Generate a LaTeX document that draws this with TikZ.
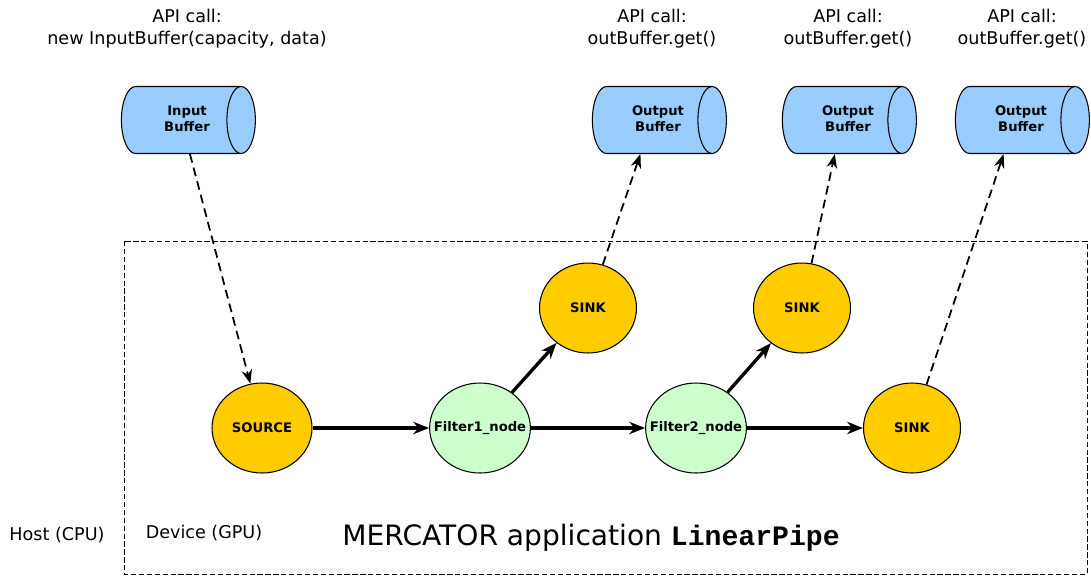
\documentclass[tikz,border=0pt]{standalone}
\usepackage{fontspec}
\setmainfont{DejaVu Sans}
\setmonofont{Liberation Mono}
\usetikzlibrary{arrows.meta, shapes.geometric}
\definecolor{bufBlue}{HTML}{99CCFF}
\definecolor{sinkGold}{HTML}{FFCC00}
\definecolor{filtGreen}{HTML}{CCFFCC}
% label of a buffer, centred on the whole cylinder
\newcommand{\buftext}[1]{\hspace*{0.24cm}\begin{tabular}{@{}c@{}}#1\end{tabular}}
\tikzset{
  buffer/.style={cylinder, draw=black, fill=bufBlue, semithick, aspect=0.9,
    minimum height=2.68cm, minimum width=1.34cm, inner sep=0pt,
    font=\fontsize{7.5}{9}\selectfont\bfseries},
  stage/.style={ellipse, draw=black, semithick, inner ysep=0pt, inner xsep=-6pt,
    minimum width=2cm, minimum height=1.8cm,
    font=\fontsize{7.5}{9}\selectfont\bfseries},
  source/.style={stage, fill=sinkGold},
  sink/.style={stage, fill=sinkGold, minimum width=1.94cm},
  filter/.style={stage, fill=filtGreen},
  apicall/.style={align=center, font=\fontsize{10}{12.5}\selectfont},
  flow/.style={-{Stealth[length=9pt, width=7pt]}, line width=1.9pt},
  bufflow/.style={-{Stealth[length=8pt, width=6pt]}, dash pattern=on 5pt off 3pt, line width=1pt}
}

\begin{document}
\begin{tikzpicture}[x=0.02cm, y=-0.02cm]
  \useasboundingbox (0,0) rectangle (1091,576);
  \draw[dash pattern=on 3pt off 1.5pt, thin] (124,241) rectangle (1087,574);

  % buffers on the host
  \node[buffer] (inbuf) at (181,120) {\buftext{Input\\Buffer}};
  \node[buffer] (outbuf1) at (652,120) {\buftext{Output\\Buffer}};
  \node[buffer] (outbuf2) at (842,120) {\buftext{Output\\Buffer}};
  \node[buffer] (outbuf3) at (1015,120) {\buftext{Output\\Buffer}};

  \node[apicall] (incall) at (187,29) {API call:\\new InputBuffer(capacity, data)};
  \node[apicall] (outcall1) at (652,29) {API call:\\outBuffer.get()};
  \node[apicall] (outcall2) at (848,29) {API call:\\outBuffer.get()};
  \node[apicall] (outcall3) at (1022,29) {API call:\\outBuffer.get()};

  % pipeline on the device
  \node[source] (source) at (262,428) {SOURCE};
  \node[filter] (filter1) at (480,428) {Filter1\_node};
  \node[filter] (filter2) at (696,428) {Filter2\_node};
  \node[sink] (sink1) at (588,308) {SINK};
  \node[sink] (sink2) at (802,308) {SINK};
  \node[sink] (sink3) at (912,428) {SINK};

  \draw[flow] (source) -- (filter1);
  \draw[flow] (filter1) -- (filter2);
  \draw[flow] (filter2) -- (sink3);
  \draw[flow] (filter1) -- (sink1);
  \draw[flow] (filter2) -- (sink2);

  \draw[bufflow] (inbuf) -- (source);
  \draw[bufflow] (sink1) -- (outbuf1);
  \draw[bufflow] (sink2) -- (outbuf2);
  \draw[bufflow] (sink3) -- (outbuf3);

  \node[font=\fontsize{10}{12}\selectfont] (host) at (57,535) {Host (CPU)};
  \node[font=\fontsize{10}{12}\selectfont] (device) at (204,533) {Device (GPU)};
  \node[font=\fontsize{16}{19}\selectfont] (appname) at (591,538)
    {MERCATOR application \texttt{\bfseries LinearPipe}};
\end{tikzpicture}
\end{document}
